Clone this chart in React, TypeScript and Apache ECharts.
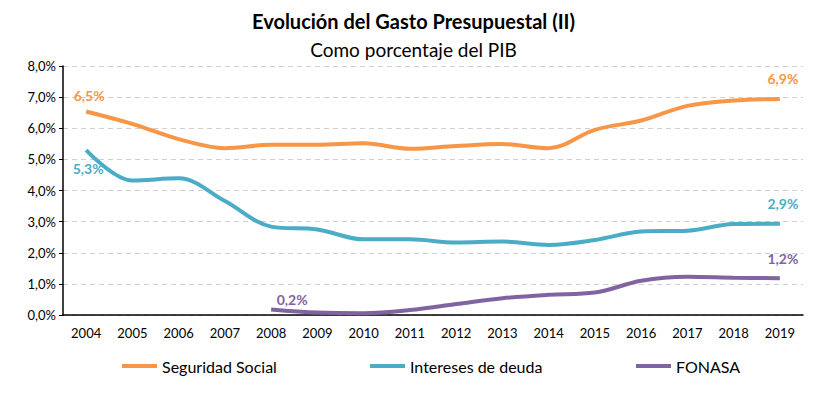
import React, { useEffect, useRef } from "react";
import * as echarts from "echarts";

const years = ["2004","2005","2006","2007","2008","2009","2010","2011","2012","2013","2014","2015","2016","2017","2018","2019"];
const seguridadSocial = [6.54, 6.14, 5.65, 5.36, 5.47, 5.47, 5.52, 5.34, 5.43, 5.49, 5.36, 5.95, 6.25, 6.72, 6.89, 6.94];
const intereses = [5.3, 4.32, 4.39, 3.66, 2.84, 2.75, 2.43, 2.43, 2.33, 2.36, 2.25, 2.41, 2.68, 2.71, 2.92, 2.93];
const fonasa = [null, null, null, null, 0.18, 0.08, 0.06, 0.16, 0.35, 0.54, 0.65, 0.72, 1.1, 1.23, 1.2, 1.18];
const yTicks = { min: 0, max: 8, interval: 1 };

const FONT = "Lato, 'Noto Sans', sans-serif";
const fmt = (v: number) => v.toFixed(1).replace(".", ",") + "%";

function withLabels(values: (number | null)[], color: string, offsets: Record<number, [number, number]>) {
  return values.map((v, i) => {
    if (v === null) return null;
    if (offsets[i]) {
      return {
        value: v,
        label: {
          show: true,
          position: "inside",
          offset: offsets[i],
          color,
          fontWeight: "bold",
          fontSize: 14,
          fontFamily: FONT,
          formatter: (p: any) => fmt(p.value),
        },
      };
    }
    return v;
  });
}

export default function App() {
  const ref = useRef<HTMLDivElement>(null);
  useEffect(() => {
    if (!ref.current) return;
    const chart = echarts.init(ref.current, undefined, { renderer: "svg" });
    const orange = "#F79646";
    const blue = "#4BACC6";
    const purple = "#8064A2";
    const legendCommon = {
      top: 353,
      itemWidth: 35,
      itemHeight: 4,
      itemGap: 4,
      icon: "rect",
      textStyle: { fontFamily: FONT, fontSize: 16, color: "#000" },
    };
    const lineSeries = {
      type: "line",
      smooth: 0.35,
      showSymbol: true,
      symbol: "circle",
      symbolSize: 0,
      connectNulls: false,
    };
    chart.setOption({
      animation: false,
      title: [
        {
          text: "Evolución del Gasto Presupuestal (II)",
          left: "center",
          top: 6,
          textStyle: { fontFamily: FONT, fontSize: 20, fontWeight: "bold", color: "#000" },
        },
        {
          text: "Como porcentaje del PIB",
          left: "center",
          top: 35,
          textStyle: { fontFamily: FONT, fontSize: 19, fontWeight: "normal", color: "#000" },
        },
      ],
      legend: [
        { ...legendCommon, left: 117, data: ["Seguridad Social"] },
        { ...legendCommon, left: 365, data: ["Intereses de deuda"] },
        { ...legendCommon, left: 631, data: ["FONASA"] },
      ],
      grid: { left: 63, right: 24, top: 66, bottom: 81 },
      xAxis: {
        type: "category",
        data: years,
        boundaryGap: true,
        axisLine: { lineStyle: { color: "#000", width: 1.5 } },
        axisTick: { show: false },
        axisLabel: { fontFamily: FONT, fontSize: 13, color: "#000", margin: 11 },
      },
      yAxis: {
        type: "value",
        min: yTicks.min,
        max: yTicks.max,
        interval: yTicks.interval,
        axisLine: { show: true, lineStyle: { color: "#000", width: 1.5 } },
        axisTick: { show: true, length: 4, lineStyle: { color: "#000" } },
        axisLabel: { fontFamily: FONT, fontSize: 13, color: "#000", margin: 7, formatter: (v: number) => fmt(v) },
        splitLine: { show: true, lineStyle: { color: "#D0D0D0", type: [5, 4], width: 1 } },
      },
      series: [
        {
          ...lineSeries,
          name: "Seguridad Social",
          color: orange,
          itemStyle: { color: orange },
          lineStyle: { width: 4, color: orange },
          data: withLabels(seguridadSocial, orange, { 0: [3, -16], 15: [3, -20] }),
        },
        {
          ...lineSeries,
          name: "Intereses de deuda",
          color: blue,
          itemStyle: { color: blue },
          lineStyle: { width: 4, color: blue },
          data: withLabels(intereses, blue, { 0: [2, 18], 15: [3, -20] }),
        },
        {
          ...lineSeries,
          name: "FONASA",
          color: purple,
          itemStyle: { color: purple },
          lineStyle: { width: 4, color: purple },
          data: withLabels(fonasa, purple, { 4: [21, -10], 15: [3, -20] }),
        },
      ],
    });
    return () => chart.dispose();
  }, []);
  return <div ref={ref} style={{ width: 827, height: 396, position: "absolute", left: 0, top: 0 }} />;
}
